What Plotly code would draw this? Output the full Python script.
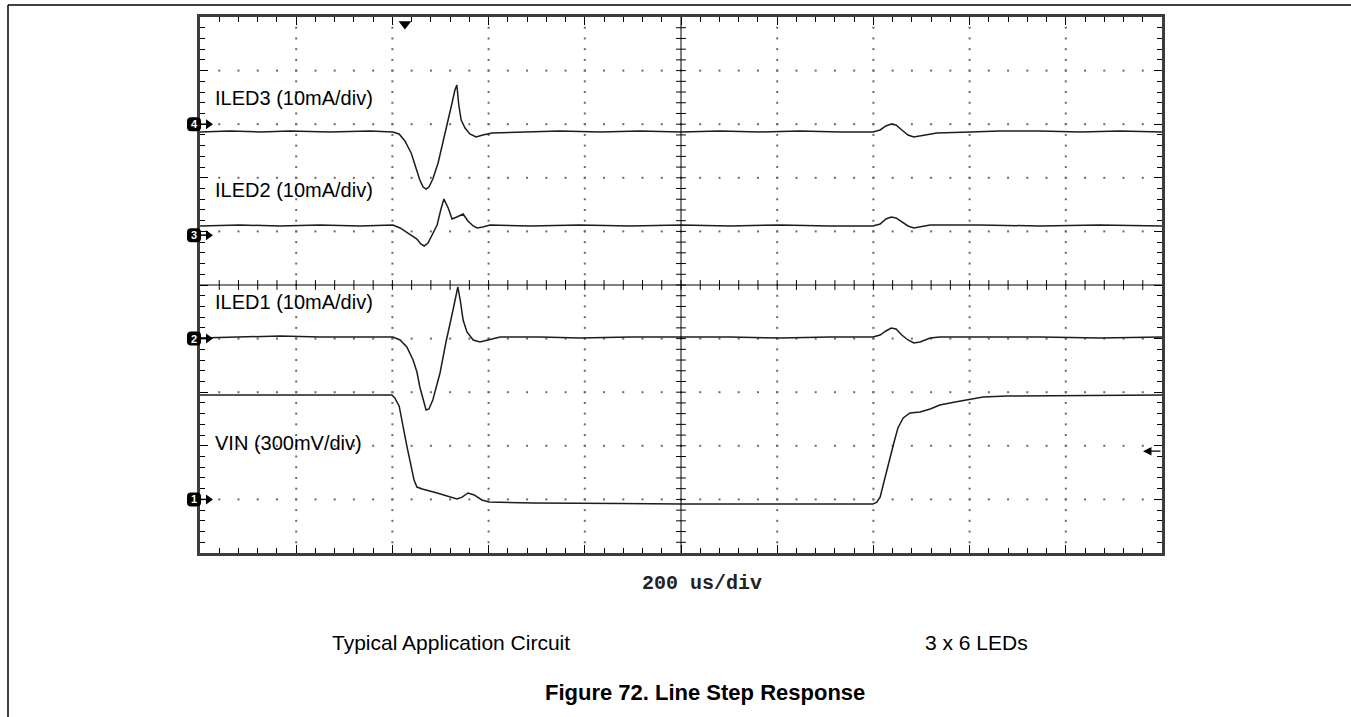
import plotly.graph_objects as go

# ---------------- data ----------------
T_DIV_US = 200          # 200 us/div, 10 horizontal divisions
N_XDIV = 10
N_YDIV = 10

# channel settings: units per division and ground-marker level (div from bottom)
CH_SCALE = {"ILED3": 10.0, "ILED2": 10.0, "ILED1": 10.0, "VIN": 300.0}
CH_LEVEL = {"ILED3": 8.0, "ILED2": 5.93, "ILED1": 4.0, "VIN": 1.0}
CH_NUM = {"ILED3": "4", "ILED2": "3", "ILED1": "2", "VIN": "1"}
CH_LABEL = {"ILED3": "ILED3 (10mA/div)", "ILED2": "ILED2 (10mA/div)",
            "ILED1": "ILED1 (10mA/div)", "VIN": "VIN (300mV/div)"}

T_ILED3_US = [0, 62, 125, 187, 270, 353, 401,
              414, 426, 439, 449, 457, 464, 470, 476, 484, 495, 505, 516, 524, 530, 534, 538, 543, 551, 561, 574,
              588, 607,
              665, 748, 832, 915, 1000, 1081, 1164, 1247, 1331,
              1399, 1414, 1426, 1437, 1447, 1459, 1472, 1484, 1497, 1514, 1532,
              1601, 1663, 1746, 1830, 1913, 2000]
ILED3_MA = [-1.45, -1.27, -1.45, -1.27, -1.45, -1.27, -1.45,
            -1.83, -3.13, -5.37, -8.17, -10.41, -11.72, -12.09, -11.72, -10.22, -7.24, -3.51, 0.41, 3.96, 6.38,
            7.31, 3.58, 0.78, -0.71, -1.83, -2.39, -2.01, -1.64,
            -1.45, -1.27, -1.45, -1.27, -1.45, -1.27, -1.45, -1.27, -1.45,
            -1.45, -1.08, -0.33, 0.04, -0.15, -1.08, -2.01, -2.39, -2.2, -1.83, -1.64,
            -1.45, -1.27, -1.27, -1.45, -1.27, -1.45]

T_ILED2_US = [0, 83, 166, 249, 333,
              401, 416, 428, 439, 451, 459, 466, 474, 484, 493, 501, 507, 516, 524, 534, 547, 557, 568, 576, 588,
              603,
              686, 790, 894, 1000, 1102, 1206, 1310,
              1399, 1414, 1426, 1437, 1447, 1459, 1472, 1484, 1497, 1518,
              1622, 1746, 1871, 2000]
ILED2_MA = [1.71, 1.89, 1.71, 1.89, 1.71,
            1.89, 1.34, 0.59, 0.03, -0.72, -1.65, -2.02, -1.46, 0.22, 1.89, 4.88, 6.75, 5.07, 3.01, 3.39, 3.95,
            2.64, 1.71, 1.34, 1.52, 1.89,
            1.71, 1.89, 1.71, 1.89, 1.71, 1.89, 1.71,
            1.71, 2.08, 3.01, 3.39, 3.2, 2.45, 1.71, 1.34, 1.52, 1.89,
            1.89, 1.71, 1.89, 1.71]

T_ILED1_US = [0, 83, 166, 249, 333,
              401, 416, 430, 443, 451, 457, 464, 470, 476, 484, 499, 511, 526, 532, 536, 541, 547, 555, 568, 582,
              599, 624,
              707, 790, 894, 1000, 1102, 1206, 1310,
              1399, 1414, 1426, 1437, 1447, 1459, 1472, 1484, 1497, 1518, 1538,
              1622, 1746, 1871, 2000]
ILED1_MA = [0.11, 0.30, 0.49, 0.30, 0.30,
            0.30, -0.26, -1.57, -3.99, -6.23, -9.03, -11.64, -13.32, -13.13, -11.45, -6.42, -0.82, 5.34, 8.32,
            9.63, 7.20, 3.47, 1.23, -0.26, -0.63, -0.26, 0.30,
            0.30, 0.11, 0.30, 0.30, 0.30, 0.11, 0.30,
            0.30, 0.67, 1.42, 1.98, 1.79, 0.67, -0.26, -0.82, -0.63, 0.11, 0.30,
            0.30, 0.30, 0.11, 0.30]

T_VIN_US = [0, 399, 405, 414, 430, 445, 451, 462, 493, 524, 534, 545, 557, 570, 586, 601,
            692, 873, 1000, 1206, 1399,
            1407, 1414, 1424, 1434, 1443, 1451, 1462, 1476, 1497, 1518, 1538, 1570, 1595, 1628, 1678, 2000]
VIN_MV = [584, 584, 568, 523, 299, 109, 69, 58, 36, 8, 2, 13, 36, 25, -3, -15,
          -20, -23, -26, -26, -26,
          -15, 13, 120, 232, 321, 400, 456, 484, 489, 506, 528, 545, 556, 573, 579, 584]

TRIGGER_US = 426
TRIGGER_LEVEL_DIV = 1.9

SERIES = {"ILED3": (T_ILED3_US, ILED3_MA), "ILED2": (T_ILED2_US, ILED2_MA),
          "ILED1": (T_ILED1_US, ILED1_MA), "VIN": (T_VIN_US, VIN_MV)}
LABEL_Y_DIV = {"ILED3": 8.49, "ILED2": 6.77, "ILED1": 4.68, "VIN": 2.05}

# ---------------- layout geometry ----------------
W, H = 1351, 717
L, R, T, B = 200, 1162, 17, 553
PW, PH = R - L, B - T
XMAX = T_DIV_US * N_XDIV
US_PER_PX = XMAX / PW
DIV_PER_PX = N_YDIV / PH


def xp(px):
    return (px - L) / PW


def yp(py):
    return (B - py) / PH


fig = go.Figure()

# dotted graticule
gx, gy = [], []
for i in range(1, N_YDIV):
    if i == N_YDIV // 2:
        continue
    for k in range(1, N_XDIV * 5):
        gx.append(k * T_DIV_US / 5)
        gy.append(i)
for i in range(1, N_XDIV):
    if i == N_XDIV // 2:
        continue
    for k in range(1, N_YDIV * 5):
        gx.append(i * T_DIV_US)
        gy.append(k / 5)
fig.add_trace(go.Scatter(x=gx, y=gy, mode="markers",
                         marker=dict(size=2, color="#6a6a6a", symbol="square", line=dict(width=0)),
                         hoverinfo="skip", showlegend=False))

# centre cross-hair ticks
fig.add_trace(go.Scatter(x=[k * T_DIV_US / 5 for k in range(1, N_XDIV * 5)], y=[N_YDIV / 2] * (N_XDIV * 5 - 1),
                         mode="markers",
                         marker=dict(symbol="line-ns", size=7, line=dict(width=1, color="black")),
                         hoverinfo="skip", showlegend=False))
fig.add_trace(go.Scatter(x=[XMAX / 2] * (N_YDIV * 5 - 1), y=[k / 5 for k in range(1, N_YDIV * 5)],
                         mode="markers",
                         marker=dict(symbol="line-ew", size=7, line=dict(width=1, color="black")),
                         hoverinfo="skip", showlegend=False))

# waveforms
for name, (ts, vals) in SERIES.items():
    ys = [CH_LEVEL[name] + v / CH_SCALE[name] for v in vals]
    fig.add_trace(go.Scatter(x=ts, y=ys, mode="lines", line=dict(color="#1c1c1c", width=1.5),
                             name=name, showlegend=False, hoverinfo="skip"))
    fig.add_annotation(x=13 * US_PER_PX, y=LABEL_Y_DIV[name], xref="x", yref="y", text=CH_LABEL[name],
                       showarrow=False, xanchor="left", yanchor="middle",
                       font=dict(family="Liberation Sans, Arial", size=20, color="black"))

# channel ground markers (rounded badge + arrow), drawn in paper coords so they may overhang the frame
BADGE = "M -7 -3 Q -7 -7 -3 -7 L 3 -7 Q 7 -7 7 -3 L 7 3 Q 7 7 3 7 L -3 7 Q -7 7 -7 3 Z"
for name in SERIES:
    ylev = CH_LEVEL[name] / N_YDIV
    fig.add_shape(type="path", xref="paper", yref="paper", xsizemode="pixel", ysizemode="pixel",
                  xanchor=xp(194), yanchor=ylev, path=BADGE, fillcolor="black", line=dict(width=0))
    fig.add_shape(type="line", xref="paper", yref="paper", xsizemode="pixel", ysizemode="pixel",
                  xanchor=xp(200), yanchor=ylev, x0=0, x1=7, y0=0, y1=0, line=dict(color="black", width=1.5))
    fig.add_shape(type="path", xref="paper", yref="paper", xsizemode="pixel", ysizemode="pixel",
                  xanchor=xp(206), yanchor=ylev, path="M 0 -5 L 7 0 L 0 5 Z", fillcolor="black",
                  line=dict(width=0))
    fig.add_annotation(xref="paper", yref="paper", x=xp(194), y=ylev, text="<b>%s</b>" % CH_NUM[name],
                       showarrow=False, xanchor="center", yanchor="middle",
                       font=dict(color="white", size=11, family="Liberation Sans, Arial"))

# trigger position marker
fig.add_trace(go.Scatter(x=[TRIGGER_US], y=[N_YDIV - 7 * DIV_PER_PX], mode="markers",
                         marker=dict(symbol="triangle-down", size=11, color="black"),
                         cliponaxis=False, hoverinfo="skip", showlegend=False))
# trigger level arrow
fig.add_annotation(x=XMAX - 19 * US_PER_PX, y=TRIGGER_LEVEL_DIV, xref="x", yref="y", text="",
                   showarrow=True, ax=19, ay=0, arrowhead=2, arrowsize=1.3, arrowwidth=1.3,
                   arrowcolor="black")

fig.add_shape(type="line", x0=0, x1=XMAX, y0=N_YDIV / 2, y1=N_YDIV / 2, xref="x", yref="y",
              line=dict(color="black", width=1))
fig.add_shape(type="line", x0=XMAX / 2, x1=XMAX / 2, y0=0, y1=N_YDIV, xref="x", yref="y",
              line=dict(color="black", width=1))

# page frame
fig.add_shape(type="line", xref="paper", yref="paper", x0=xp(8), x1=xp(W), y0=yp(5), y1=yp(5),
              line=dict(color="black", width=1.5))
fig.add_shape(type="line", xref="paper", yref="paper", x0=xp(8), x1=xp(8), y0=yp(5), y1=yp(H),
              line=dict(color="black", width=1.5))

# captions
fig.add_annotation(xref="paper", yref="paper", x=xp(702), y=yp(583), text="<b>200 us/div</b>",
                   showarrow=False, xanchor="center", yanchor="middle",
                   font=dict(family="Liberation Mono, Courier New", size=20, color="#222"))
fig.add_annotation(xref="paper", yref="paper", x=xp(451), y=yp(642), text="Typical Application Circuit",
                   showarrow=False, xanchor="center", yanchor="middle",
                   font=dict(family="Liberation Sans, Arial", size=21, color="black"))
fig.add_annotation(xref="paper", yref="paper", x=xp(976), y=yp(642), text="3 x 6 LEDs",
                   showarrow=False, xanchor="center", yanchor="middle",
                   font=dict(family="Liberation Sans, Arial", size=21, color="black"))
fig.add_annotation(xref="paper", yref="paper", x=xp(705), y=yp(692), text="<b>Figure 72. Line Step Response</b>",
                   showarrow=False, xanchor="center", yanchor="middle",
                   font=dict(family="Liberation Sans, Arial", size=22, color="black"))

axis_common = dict(showgrid=False, zeroline=False, showline=True, linewidth=3, linecolor="#3d3d3d",
                   mirror="allticks", ticks="inside", tickwidth=1, tickcolor="black",
                   showticklabels=False, layer="below traces", fixedrange=True)
fig.update_xaxes(range=[0, XMAX], dtick=T_DIV_US, tick0=0, ticklen=8,
                 minor=dict(ticks="inside", ticklen=5, dtick=T_DIV_US / 5, tick0=0, tickcolor="black",
                            tickwidth=1, showgrid=False),
                 **axis_common)
fig.update_yaxes(range=[0, N_YDIV], dtick=1, tick0=0, ticklen=8,
                 minor=dict(ticks="inside", ticklen=5, dtick=0.2, tick0=0, tickcolor="black",
                            tickwidth=1, showgrid=False),
                 **axis_common)

fig.update_layout(width=W, height=H, autosize=False,
                  margin=dict(l=L, r=W - R, t=T, b=H - B, pad=0),
                  paper_bgcolor="white", plot_bgcolor="white", showlegend=False)

fig.write_html("out.html", config={"displayModeBar": False, "staticPlot": True},
               post_script="document.body.style.margin='0px';document.body.style.overflow='hidden';")
